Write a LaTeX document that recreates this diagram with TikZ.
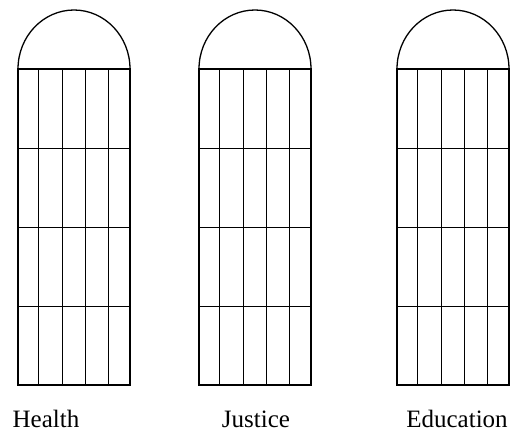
\documentclass[tikz,border=0pt]{standalone}
\usepackage{fontspec}
\setmainfont{Liberation Serif}

\begin{document}
\begin{tikzpicture}[x=1pt,y=-1pt,
    frame/.style={draw,line width=1.3pt},
    bar/.style={draw,line width=0.6pt},
    label/.style={anchor=base,inner sep=0pt,font=\fontsize{25}{30}\selectfont}]
\useasboundingbox (0,0) rectangle (512,432);
\foreach \x/\name/\lx in {18/Health/46, 199/Justice/256, 397/Education/457} {
  \draw[bar] (\x,148) -- ++(112,0);
  \draw[bar] (\x,227) -- ++(112,0);
  \draw[bar] (\x,306) -- ++(112,0);
  \foreach \c in {20,44,67,90}
    \draw[bar] (\x+\c,69) -- (\x+\c,385);
  \draw[frame] (\x,69) rectangle ++(112,316);
  \draw[frame] (\x,69) arc[start angle=180,end angle=360,x radius=56,y radius=59];
  \node[label] (\name) at (\lx,427) {\name};
}
\end{tikzpicture}
\end{document}
